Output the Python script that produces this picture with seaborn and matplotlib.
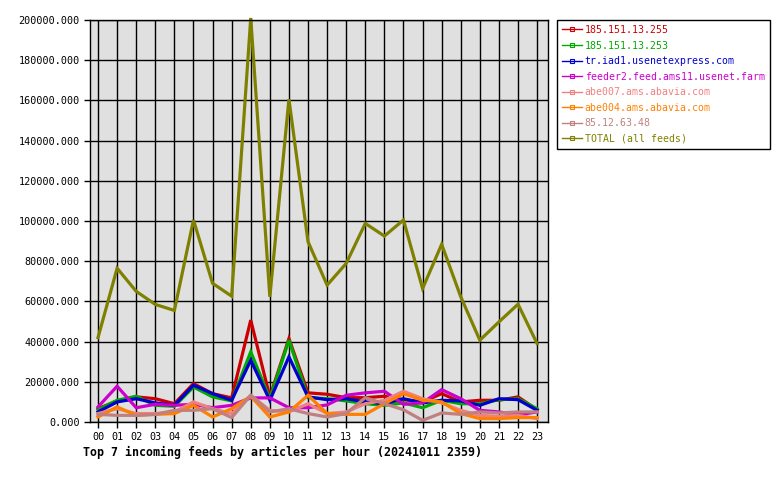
import numpy as np
import pandas as pd
import matplotlib
matplotlib.use("Agg")
import matplotlib.pyplot as plt
from matplotlib.lines import Line2D
import seaborn as sns

# hourly article counts per feed
hours = list(range(24))
hour_labels = ["%02d" % h for h in hours]

feeds = ["185.151.13.255", "185.151.13.253", "tr.iad1.usenetexpress.com",
         "feeder2.feed.ams11.usenet.farm", "abe007.ams.abavia.com",
         "abe004.ams.abavia.com", "85.12.63.48", "TOTAL (all feeds)"]
colors = ["#cc0000", "#00aa00", "#0000cc", "#cc00cc", "#f08080",
          "#ff8000", "#c08080", "#808000"]

red = [6600, 10500, 12500, 11600, 9100, 19100, 14100, 12000, 50700, 12500, 41500, 14500,
       13800, 12100, 12100, 12800, 11100, 10000, 14100, 10000, 10800, 10800, 12500, 6100]
green = [6100, 10800, 12800, 8300, 7800, 17400, 12500, 10500, 34900, 11600, 40700, 12100,
         11600, 10500, 9100, 8300, 9500, 7100, 10800, 9100, 9100, 11100, 11600, 6600]
blue = [5000, 10000, 11600, 9500, 8300, 18300, 14100, 10800, 30700, 10800, 32400, 12500,
        11100, 11600, 10000, 9100, 11600, 9500, 10800, 10500, 8300, 11600, 11100, 5800]
magenta = [7500, 17800, 7100, 8800, 8300, 8800, 7100, 8300, 12000, 12000, 7100, 7100,
           8500, 13300, 14500, 15300, 8800, 9500, 16100, 11600, 5800, 5000, 3600, 5000]
salmon = [4200, 6600, 4200, 4200, 5000, 10000, 6600, 4200, 13300, 5800, 5000, 9100,
          4200, 5000, 9100, 10800, 15300, 11600, 9500, 5800, 3300, 2800, 3300, 1700]
orange = [2500, 7500, 3300, 3800, 4200, 8300, 2500, 6600, 12800, 2500, 5000, 13300,
          4200, 3800, 3800, 9100, 14100, 10800, 10000, 4200, 1700, 1700, 2200, 2200]
rosy = [3800, 3300, 3300, 3800, 5800, 5800, 6600, 2200, 13300, 5000, 6600, 4200,
        2500, 4200, 12100, 9100, 6100, 800, 4500, 3800, 5000, 4500, 5000, 5000]
total = [42000, 76500, 65000, 58500, 55500, 100500, 69000, 62600, 201000, 62300, 160600, 89700,
         68100, 78900, 98800, 92500, 100500, 66400, 88400, 62300, 40700, 49800, 58600, 39000]

series = [red, green, blue, magenta, salmon, orange, rosy, total]
df = pd.concat([pd.DataFrame({"hour": hours, "articles": vals, "feed": name})
                for name, vals in zip(feeds, series)], ignore_index=True)

plt.rcParams["font.family"] = ["DejaVu Sans Mono"]

fig = plt.figure(figsize=(7.8, 4.8), dpi=100)
ax = fig.add_axes([90 / 780, 1 - 422 / 480, 458 / 780, 402 / 480])
ax.set_facecolor("#e0e0e0")

sns.lineplot(data=df, x="hour", y="articles", hue="feed", hue_order=feeds,
             palette=colors, linewidth=2.3, legend=False, ax=ax)
for ln in ax.get_lines():
    ln.set_clip_on(False)
    ln.set_solid_joinstyle("miter")

ax.set_xlim(-0.42, 23.57)
ax.set_ylim(0, 200000)
ax.set_xticks(hours)
ax.set_xticklabels(hour_labels)
yt = np.arange(0, 200001, 20000)
ax.set_yticks(yt)
ax.set_yticklabels(["%.3f" % v for v in yt])
ax.grid(True, color="black", linewidth=1)
ax.set_axisbelow(True)
ax.set_xlabel("")
ax.set_ylabel("")
ax.tick_params(axis="both", labelsize=7.3, length=4, width=1, color="black")
for s in ax.spines.values():
    s.set_color("black")
    s.set_linewidth(1)

handles = [Line2D([], [], color=c, linewidth=1, marker="s", markersize=3,
                  markerfacecolor="none", markeredgewidth=0.8) for c in colors]
leg = fig.legend(handles, feeds, loc="upper left", bbox_to_anchor=(557 / 780, 1 - 20 / 480),
                 fontsize=7.15, frameon=True, fancybox=False, framealpha=1,
                 edgecolor="black", handlelength=2.0, handletextpad=0.3,
                 labelspacing=0.56, borderpad=0.5, borderaxespad=0)
leg.get_frame().set_linewidth(1)
for txt, c in zip(leg.get_texts(), colors):
    txt.set_color(c)

fig.text(83 / 780, 1 - 452 / 480, "Top 7 incoming feeds by articles per hour (20241011 2359)",
         fontsize=8.4, fontweight="bold", va="center", ha="left")

fig.savefig("out.png", dpi=100)
